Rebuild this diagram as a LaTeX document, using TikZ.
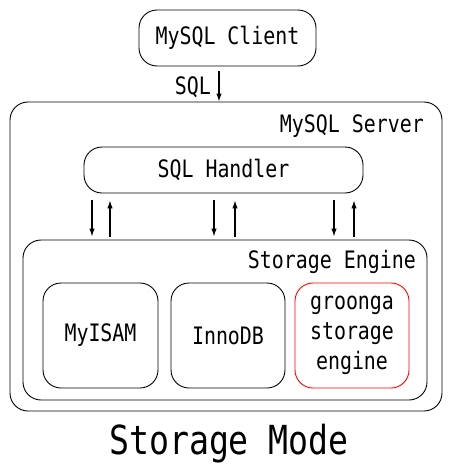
\documentclass[tikz,border=0pt]{standalone}
\usepackage{fontspec}
\newfontfamily\gth[FakeStretch=0.83]{DejaVu Sans Mono}
\usetikzlibrary{arrows.meta}
\begin{document}
\begin{tikzpicture}[x=1pt,y=-1pt,
  box/.style={draw=black,line width=0.9pt,rounded corners=18pt,inner sep=0pt,font=\gth\fontsize{24}{30}\selectfont,align=center},
  lbl/.style={inner sep=0pt,font=\gth\fontsize{24}{30}\selectfont},
  arr/.style={line width=1.2pt,-{Latex[length=8pt,width=5.5pt]}}]
\useasboundingbox (0,0) rectangle (452,474);
\node[box,minimum width=177pt,minimum height=56pt] (client) at (227.5,38) {\raisebox{-2pt}{MySQL Client}};
\node[box,minimum width=432pt,minimum height=309pt] (server) at (226,256.5) {};
\node[lbl,anchor=east] (srvl) at (424,126) {MySQL Server};
\node[box,minimum width=279pt,minimum height=46pt] (handler) at (223.5,170) {\raisebox{-2pt}{SQL Handler}};
\node[box,minimum width=404pt,minimum height=160pt] (engine) at (225,320) {};
\node[lbl,anchor=east] (engl) at (416,262) {Storage Engine};
\node[box,minimum width=115pt,minimum height=105pt] (myisam) at (100.5,335.5) {MyISAM};
\node[box,minimum width=114pt,minimum height=105pt] (innodb) at (228,335.5) {InnoDB};
\node[box,draw=red,minimum width=114pt,minimum height=105pt] (groonga) at (352,335.5) {groonga\\storage\\engine};
\node[lbl,font=\gth\fontsize{40}{42}\selectfont] (title) at (229,444) {Storage Mode};
\coordinate (sqlx) at (219,0);
\draw[arr,shorten <=5pt,shorten >=0pt] (client.south -| sqlx) -- (server.north -| sqlx);
\node[lbl,anchor=east] (sqll) at (211,87) {SQL};
\foreach \d/\u [count=\i] in {92/110,214/235,334/354}{
  \coordinate (d\i) at (\d,0);
  \coordinate (u\i) at (\u,0);
  \draw[arr,shorten <=7pt,shorten >=3pt] (handler.south -| d\i) -- (engine.north -| d\i);
  \draw[arr,shorten <=3pt,shorten >=7pt] (engine.north -| u\i) -- (handler.south -| u\i);
}
\end{tikzpicture}
\end{document}
